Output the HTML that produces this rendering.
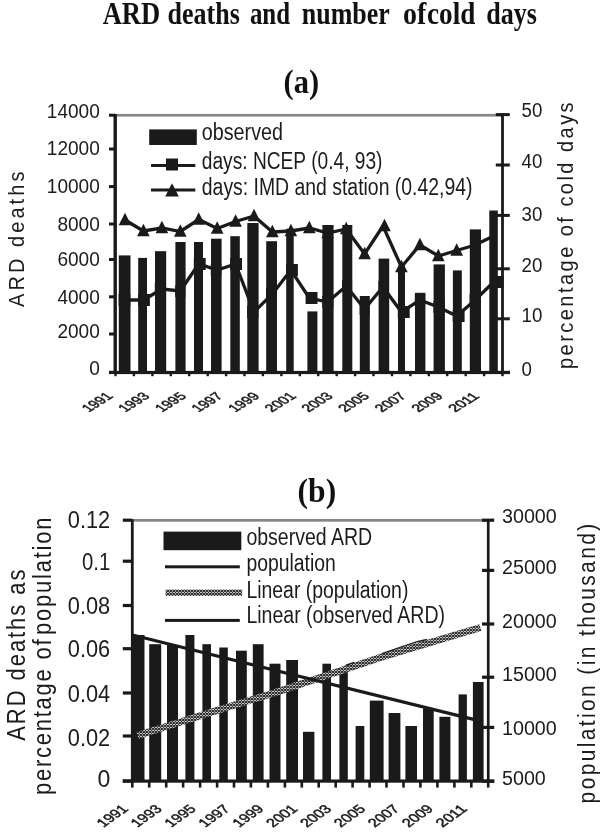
<!DOCTYPE html>
<html lang="en">
<head>
<meta charset="utf-8">
<title>ARD deaths and number of cold days</title>
<style>
html,body{margin:0;padding:0;background:#fff;}
body{width:601px;height:832px;overflow:hidden;}
svg{display:block;}
svg text{font-family:"Liberation Sans", sans-serif;fill:#1c1c1c;}
svg text.xl{stroke:#1c1c1c;stroke-width:0.45px;}
svg text.sf{font-family:"Liberation Serif", serif;fill:#111;}
</style>
</head>
<body>
<svg width="601" height="832" viewBox="0 0 601 832">
<defs>
<pattern id="hatch" width="3" height="3" patternUnits="userSpaceOnUse">
<rect x="0" y="0" width="3" height="3" style="fill:#fff"/>
<path d="M-0.5,-0.5 L3.5,3.5 M3.5,-0.5 L-0.5,3.5" style="fill:none;stroke:#262626;stroke-width:1.05"/>
</pattern>
</defs>
<rect x="0" y="0" width="601" height="832" style="fill:#fff"/>
<g fill="#1a1a1a">
<text x="102.7" y="23.6" font-size="31" textLength="57.5" lengthAdjust="spacingAndGlyphs" class="sf" font-weight="bold">ARD</text>
<text x="167.6" y="23.6" font-size="31" textLength="72.2" lengthAdjust="spacingAndGlyphs" class="sf" font-weight="bold">deaths</text>
<text x="249.9" y="23.6" font-size="31" textLength="40.1" lengthAdjust="spacingAndGlyphs" class="sf" font-weight="bold">and</text>
<text x="301.8" y="23.6" font-size="31" textLength="87.9" lengthAdjust="spacingAndGlyphs" class="sf" font-weight="bold">number</text>
<text x="403" y="23.6" font-size="31" textLength="23.3" lengthAdjust="spacingAndGlyphs" class="sf" font-weight="bold">of</text>
<text x="427" y="23.6" font-size="31" textLength="48.3" lengthAdjust="spacingAndGlyphs" class="sf" font-weight="bold">cold</text>
<text x="486.3" y="23.6" font-size="31" textLength="50.7" lengthAdjust="spacingAndGlyphs" class="sf" font-weight="bold">days</text>
<text x="283.6" y="93.3" font-size="33.5" textLength="35.6" lengthAdjust="spacingAndGlyphs" class="sf" font-weight="bold">(a)</text>
<text x="297.6" y="502.2" font-size="33.5" textLength="38.6" lengthAdjust="spacingAndGlyphs" class="sf" font-weight="bold">(b)</text>
<rect x="114.2" y="113.9" width="389" height="2.7" fill="#878787"/>
<rect x="118.8" y="255.4" width="11.7" height="117.0"/>
<rect x="138.2" y="257.9" width="8.8" height="114.5"/>
<rect x="155.0" y="251.2" width="11.2" height="121.2"/>
<rect x="175.4" y="242.0" width="10.2" height="130.4"/>
<rect x="194.0" y="242.0" width="9.0" height="130.4"/>
<rect x="211.0" y="238.7" width="10.6" height="133.7"/>
<rect x="230.3" y="236.2" width="9.5" height="136.2"/>
<rect x="247.3" y="223.0" width="11.3" height="149.4"/>
<rect x="266.2" y="241.2" width="10.8" height="131.2"/>
<rect x="286.2" y="228.7" width="7.5" height="143.7"/>
<rect x="307.4" y="311.4" width="10.0" height="61.0"/>
<rect x="322.4" y="225.0" width="11.2" height="147.4"/>
<rect x="342.3" y="225.0" width="10.0" height="147.4"/>
<rect x="359.8" y="296.0" width="10.0" height="76.4"/>
<rect x="378.6" y="258.6" width="10.6" height="113.8"/>
<rect x="398.0" y="266.0" width="7.0" height="106.4"/>
<rect x="415.0" y="292.8" width="10.4" height="79.6"/>
<rect x="433.6" y="264.4" width="11.3" height="108.0"/>
<rect x="452.9" y="270.4" width="8.9" height="102.0"/>
<rect x="469.8" y="229.4" width="11.2" height="143.0"/>
<rect x="489.3" y="210.5" width="8.5" height="161.9"/>
<polyline points="125.0,300 143.4,300 161.9,289 180.3,291 198.7,264 217.2,270 235.6,264 254.0,312 272.4,294 290.9,270 309.3,298 327.7,302 346.2,286 364.6,309 383.0,287 401.4,312 419.9,300 438.3,307 456.7,316 475.2,300 493.6,282" fill="none" stroke="#1a1a1a" stroke-width="3.3" stroke-linejoin="miter"/>
<rect x="118.6" y="294" width="11.7" height="12"/>
<rect x="138.0" y="294" width="11.9" height="12"/>
<rect x="154.8" y="283" width="11.2" height="12"/>
<rect x="175.2" y="285" width="10.2" height="12"/>
<rect x="193.8" y="258" width="11.9" height="12"/>
<rect x="210.8" y="264" width="10.6" height="12"/>
<rect x="230.1" y="258" width="11.9" height="12"/>
<rect x="247.1" y="306" width="11.3" height="12"/>
<rect x="266.0" y="288" width="10.8" height="12"/>
<rect x="286.0" y="264" width="11.9" height="12"/>
<rect x="305.6" y="292" width="11.9" height="12"/>
<rect x="322.2" y="296" width="11.2" height="12"/>
<rect x="342.1" y="280" width="10.0" height="12"/>
<rect x="359.6" y="303" width="10.0" height="12"/>
<rect x="378.4" y="281" width="10.6" height="12"/>
<rect x="397.8" y="306" width="11.9" height="12"/>
<rect x="414.8" y="294" width="10.4" height="12"/>
<rect x="433.4" y="301" width="11.3" height="12"/>
<rect x="452.7" y="310" width="11.9" height="12"/>
<rect x="469.6" y="294" width="11.2" height="12"/>
<rect x="491.5" y="276" width="11.9" height="12"/>
<polyline points="125.0,220 143.4,231 161.9,228 180.3,231.5 198.7,219.5 217.2,228.5 235.6,221.5 254.0,216 272.4,232 290.9,231 309.3,228 327.7,233 346.2,229 364.6,254 383.0,226 401.4,267 419.9,245 438.3,256 456.7,250.5 475.2,245 493.6,236" fill="none" stroke="#1a1a1a" stroke-width="3.3" stroke-linejoin="miter"/>
<path d="M125.0,212.8 l6.3,12.4 h-12.6z"/>
<path d="M143.4,223.8 l6.3,12.4 h-12.6z"/>
<path d="M161.9,220.8 l6.3,12.4 h-12.6z"/>
<path d="M180.3,224.3 l6.3,12.4 h-12.6z"/>
<path d="M198.7,212.3 l6.3,12.4 h-12.6z"/>
<path d="M217.2,221.3 l6.3,12.4 h-12.6z"/>
<path d="M235.6,214.3 l6.3,12.4 h-12.6z"/>
<path d="M254.0,208.8 l6.3,12.4 h-12.6z"/>
<path d="M272.4,224.8 l6.3,12.4 h-12.6z"/>
<path d="M290.9,223.8 l6.3,12.4 h-12.6z"/>
<path d="M309.3,220.8 l6.3,12.4 h-12.6z"/>
<path d="M327.7,225.8 l6.3,12.4 h-12.6z"/>
<path d="M346.2,221.8 l6.3,12.4 h-12.6z"/>
<path d="M364.6,246.8 l6.3,12.4 h-12.6z"/>
<path d="M384.5,218.8 l6.3,12.4 h-12.6z"/>
<path d="M401.4,259.8 l6.3,12.4 h-12.6z"/>
<path d="M419.9,237.8 l6.3,12.4 h-12.6z"/>
<path d="M438.3,248.8 l6.3,12.4 h-12.6z"/>
<path d="M456.7,243.3 l6.3,12.4 h-12.6z"/>
<rect x="113.5" y="114" width="3.4" height="260"/>
<rect x="501.1" y="113.2" width="2.8" height="261"/>
<rect x="109" y="370.9" width="401" height="3.2"/>
<rect x="109" y="113.7" width="6" height="3"/>
<rect x="109" y="147.5" width="6" height="3"/>
<rect x="109" y="185.1" width="6" height="3"/>
<rect x="109" y="222.5" width="6" height="3"/>
<rect x="109" y="258.0" width="6" height="3"/>
<rect x="109" y="295.3" width="6" height="3"/>
<rect x="109" y="332.5" width="6" height="3"/>
<rect x="109" y="370.9" width="6" height="3"/>
<rect x="495.8" y="113.1" width="14" height="3"/>
<rect x="495.8" y="163.5" width="14" height="3"/>
<rect x="495.8" y="213.9" width="14" height="3"/>
<rect x="495.8" y="267.3" width="14" height="3"/>
<rect x="495.8" y="317.3" width="14" height="3"/>
<rect x="495.8" y="370.9" width="14" height="3"/>
<rect x="114.3" y="374" width="2.4" height="2.2"/>
<rect x="132.7" y="374" width="2.4" height="2.2"/>
<rect x="151.2" y="374" width="2.4" height="2.2"/>
<rect x="169.6" y="374" width="2.4" height="2.2"/>
<rect x="188.0" y="374" width="2.4" height="2.2"/>
<rect x="206.5" y="374" width="2.4" height="2.2"/>
<rect x="224.9" y="374" width="2.4" height="2.2"/>
<rect x="243.3" y="374" width="2.4" height="2.2"/>
<rect x="261.7" y="374" width="2.4" height="2.2"/>
<rect x="280.2" y="374" width="2.4" height="2.2"/>
<rect x="298.6" y="374" width="2.4" height="2.2"/>
<rect x="317.0" y="374" width="2.4" height="2.2"/>
<rect x="335.5" y="374" width="2.4" height="2.2"/>
<rect x="353.9" y="374" width="2.4" height="2.2"/>
<rect x="372.3" y="374" width="2.4" height="2.2"/>
<rect x="390.8" y="374" width="2.4" height="2.2"/>
<rect x="409.2" y="374" width="2.4" height="2.2"/>
<rect x="427.6" y="374" width="2.4" height="2.2"/>
<rect x="446.0" y="374" width="2.4" height="2.2"/>
<rect x="464.5" y="374" width="2.4" height="2.2"/>
<rect x="482.9" y="374" width="2.4" height="2.2"/>
<rect x="501.3" y="374" width="2.4" height="2.2"/>
<text x="99.8" y="117.5" font-size="20" text-anchor="end" textLength="53.0" lengthAdjust="spacingAndGlyphs">14000</text>
<text x="99.8" y="155.2" font-size="20" text-anchor="end" textLength="53.0" lengthAdjust="spacingAndGlyphs">12000</text>
<text x="99.8" y="193" font-size="20" text-anchor="end" textLength="53.0" lengthAdjust="spacingAndGlyphs">10000</text>
<text x="99.8" y="230.5" font-size="20" text-anchor="end" textLength="42.4" lengthAdjust="spacingAndGlyphs">8000</text>
<text x="99.8" y="265.8" font-size="20" text-anchor="end" textLength="42.4" lengthAdjust="spacingAndGlyphs">6000</text>
<text x="99.8" y="303.8" font-size="20" text-anchor="end" textLength="42.4" lengthAdjust="spacingAndGlyphs">4000</text>
<text x="99.8" y="337.8" font-size="20" text-anchor="end" textLength="42.4" lengthAdjust="spacingAndGlyphs">2000</text>
<text x="99.8" y="375" font-size="20" text-anchor="end" textLength="10.6" lengthAdjust="spacingAndGlyphs">0</text>
<text x="521.5" y="117" font-size="20" textLength="20.8" lengthAdjust="spacingAndGlyphs">50</text>
<text x="521.5" y="168" font-size="20" textLength="20.8" lengthAdjust="spacingAndGlyphs">40</text>
<text x="521.5" y="220.6" font-size="20" textLength="20.8" lengthAdjust="spacingAndGlyphs">30</text>
<text x="521.5" y="271.7" font-size="20" textLength="20.8" lengthAdjust="spacingAndGlyphs">20</text>
<text x="521.5" y="321.7" font-size="20" textLength="20.8" lengthAdjust="spacingAndGlyphs">10</text>
<text x="521.5" y="375.6" font-size="20" textLength="10.4" lengthAdjust="spacingAndGlyphs">0</text>
<text transform="translate(24,307) rotate(-90) scale(1,1.12)" font-size="20" textLength="135.4" lengthAdjust="spacing">ARD deaths</text>
<text transform="translate(572.9,369) rotate(-90) scale(1,1.08)" font-size="20" textLength="266.6" lengthAdjust="spacing">percentage of cold days</text>
<rect x="149.2" y="129.4" width="47.6" height="15.6"/>
<rect x="151" y="164" width="44.3" height="3"/>
<rect x="166" y="158.5" width="12" height="12"/>
<rect x="151" y="188.5" width="44.3" height="3"/>
<path d="M172,183.2 l6.8,13.4 h-13.6z"/>
<text x="201.8" y="140.4" font-size="23" textLength="81.2" lengthAdjust="spacingAndGlyphs">observed</text>
<text x="201.8" y="168.6" font-size="23" textLength="180.7" lengthAdjust="spacingAndGlyphs">days: NCEP (0.4, 93)</text>
<text x="201.8" y="195" font-size="23" textLength="270.7" lengthAdjust="spacingAndGlyphs">days: IMD and station (0.42,94)</text>
<text transform="translate(113.9,396.8) scale(1.6,1) rotate(-45)" font-size="10.8" text-anchor="end" textLength="22.3" lengthAdjust="spacingAndGlyphs" class="xl">1991</text>
<text transform="translate(150.5,396.8) scale(1.6,1) rotate(-45)" font-size="10.8" text-anchor="end" textLength="22.3" lengthAdjust="spacingAndGlyphs" class="xl">1993</text>
<text transform="translate(187.2,396.8) scale(1.6,1) rotate(-45)" font-size="10.8" text-anchor="end" textLength="22.3" lengthAdjust="spacingAndGlyphs" class="xl">1995</text>
<text transform="translate(223.8,396.8) scale(1.6,1) rotate(-45)" font-size="10.8" text-anchor="end" textLength="22.3" lengthAdjust="spacingAndGlyphs" class="xl">1997</text>
<text transform="translate(260.5,396.8) scale(1.6,1) rotate(-45)" font-size="10.8" text-anchor="end" textLength="22.3" lengthAdjust="spacingAndGlyphs" class="xl">1999</text>
<text transform="translate(297.1,396.8) scale(1.6,1) rotate(-45)" font-size="10.8" text-anchor="end" textLength="22.3" lengthAdjust="spacingAndGlyphs" class="xl">2001</text>
<text transform="translate(333.8,396.8) scale(1.6,1) rotate(-45)" font-size="10.8" text-anchor="end" textLength="22.3" lengthAdjust="spacingAndGlyphs" class="xl">2003</text>
<text transform="translate(370.4,396.8) scale(1.6,1) rotate(-45)" font-size="10.8" text-anchor="end" textLength="22.3" lengthAdjust="spacingAndGlyphs" class="xl">2005</text>
<text transform="translate(407.1,396.8) scale(1.6,1) rotate(-45)" font-size="10.8" text-anchor="end" textLength="22.3" lengthAdjust="spacingAndGlyphs" class="xl">2007</text>
<text transform="translate(443.7,396.8) scale(1.6,1) rotate(-45)" font-size="10.8" text-anchor="end" textLength="22.3" lengthAdjust="spacingAndGlyphs" class="xl">2009</text>
<text transform="translate(480.4,396.8) scale(1.6,1) rotate(-45)" font-size="10.8" text-anchor="end" textLength="22.3" lengthAdjust="spacingAndGlyphs" class="xl">2011</text>
<rect x="131" y="519" width="358" height="2.7" fill="#878787"/>
<rect x="132.0" y="635.0" width="12.5" height="146.0"/>
<rect x="149.2" y="644.2" width="12.0" height="136.8"/>
<rect x="167.0" y="645.0" width="11.0" height="136.0"/>
<rect x="185.4" y="635.0" width="9.0" height="146.0"/>
<rect x="202.4" y="644.2" width="8.6" height="136.8"/>
<rect x="219.3" y="647.5" width="8.5" height="133.5"/>
<rect x="236.0" y="650.7" width="10.8" height="130.3"/>
<rect x="252.8" y="644.2" width="10.8" height="136.8"/>
<rect x="269.5" y="663.7" width="11.0" height="117.3"/>
<rect x="286.2" y="660.0" width="11.8" height="121.0"/>
<rect x="303.0" y="731.8" width="11.4" height="49.2"/>
<rect x="322.4" y="663.7" width="8.6" height="117.3"/>
<rect x="339.4" y="670.0" width="8.4" height="111.0"/>
<rect x="355.6" y="726.0" width="8.7" height="55.0"/>
<rect x="369.8" y="700.6" width="13.8" height="80.4"/>
<rect x="388.6" y="713.0" width="11.8" height="68.0"/>
<rect x="405.4" y="726.0" width="11.6" height="55.0"/>
<rect x="423.0" y="708.6" width="10.7" height="72.4"/>
<rect x="439.4" y="716.8" width="11.0" height="64.2"/>
<rect x="458.6" y="694.4" width="8.3" height="86.6"/>
<rect x="472.9" y="682.0" width="10.7" height="99.0"/>
<polyline points="137.5,735.6 210,712.6 275,692.6 380,657.6 460,633.6 480.4,627.6" fill="none" stroke="url(#hatch)" stroke-width="7"/>
<polyline points="346,665.2 354,662.6" fill="none" stroke="#222" stroke-width="1.6"/>
<polyline points="382,653.6 400,647.4 418,641.4 427,639.6" fill="none" stroke="#222" stroke-width="1.5"/>
<line x1="132.5" y1="635" x2="474.5" y2="719.6" stroke="#1a1a1a" stroke-width="3.2"/>
<rect x="130.9" y="519.2" width="2.8" height="263.4"/>
<rect x="486.9" y="519" width="2.7" height="263.6"/>
<rect x="122.8" y="779.5" width="371.5" height="3.2"/>
<rect x="122.8" y="518.6" width="9" height="3.2"/>
<rect x="122.8" y="559.6" width="9" height="3.2"/>
<rect x="122.8" y="603.9" width="9" height="3.2"/>
<rect x="122.8" y="647.1" width="9" height="3.2"/>
<rect x="122.8" y="691.4" width="9" height="3.2"/>
<rect x="122.8" y="734.4" width="9" height="3.2"/>
<rect x="122.8" y="779.4" width="9" height="3.2"/>
<rect x="482" y="518.6" width="12.2" height="3.2"/>
<rect x="482" y="568.8" width="12.2" height="3.2"/>
<rect x="482" y="622.4" width="12.2" height="3.2"/>
<rect x="482" y="675.6" width="12.2" height="3.2"/>
<rect x="482" y="725.8" width="12.2" height="3.2"/>
<rect x="482" y="779.6" width="12.2" height="3.2"/>
<rect x="131.0" y="782" width="2.6" height="5.6"/>
<rect x="147.9" y="782" width="2.6" height="5.6"/>
<rect x="164.9" y="782" width="2.6" height="5.6"/>
<rect x="181.8" y="782" width="2.6" height="5.6"/>
<rect x="198.8" y="782" width="2.6" height="5.6"/>
<rect x="215.8" y="782" width="2.6" height="5.6"/>
<rect x="232.7" y="782" width="2.6" height="5.6"/>
<rect x="249.6" y="782" width="2.6" height="5.6"/>
<rect x="266.6" y="782" width="2.6" height="5.6"/>
<rect x="283.6" y="782" width="2.6" height="5.6"/>
<rect x="300.5" y="782" width="2.6" height="5.6"/>
<rect x="317.4" y="782" width="2.6" height="5.6"/>
<rect x="334.4" y="782" width="2.6" height="5.6"/>
<rect x="351.3" y="782" width="2.6" height="5.6"/>
<rect x="368.3" y="782" width="2.6" height="5.6"/>
<rect x="385.2" y="782" width="2.6" height="5.6"/>
<rect x="402.2" y="782" width="2.6" height="5.6"/>
<rect x="419.1" y="782" width="2.6" height="5.6"/>
<rect x="436.1" y="782" width="2.6" height="5.6"/>
<rect x="453.1" y="782" width="2.6" height="5.6"/>
<rect x="470.0" y="782" width="2.6" height="5.6"/>
<rect x="486.9" y="782" width="2.6" height="5.6"/>
<text x="110.2" y="527.5" font-size="23.5" text-anchor="end" textLength="42.4" lengthAdjust="spacingAndGlyphs">0.12</text>
<text x="110.2" y="569.8" font-size="23.5" text-anchor="end" textLength="28.2" lengthAdjust="spacingAndGlyphs">0.1</text>
<text x="110.2" y="613.5" font-size="23.5" text-anchor="end" textLength="42.4" lengthAdjust="spacingAndGlyphs">0.08</text>
<text x="110.2" y="657" font-size="23.5" text-anchor="end" textLength="42.4" lengthAdjust="spacingAndGlyphs">0.06</text>
<text x="110.2" y="702" font-size="23.5" text-anchor="end" textLength="42.4" lengthAdjust="spacingAndGlyphs">0.04</text>
<text x="110.2" y="745.6" font-size="23.5" text-anchor="end" textLength="42.4" lengthAdjust="spacingAndGlyphs">0.02</text>
<text x="110.2" y="787" font-size="23.5" text-anchor="end" textLength="12.8" lengthAdjust="spacingAndGlyphs">0</text>
<text x="502" y="523.4" font-size="20.5" textLength="54.8" lengthAdjust="spacingAndGlyphs">30000</text>
<text x="502" y="574" font-size="20.5" textLength="54.8" lengthAdjust="spacingAndGlyphs">25000</text>
<text x="502" y="627.7" font-size="20.5" textLength="54.8" lengthAdjust="spacingAndGlyphs">20000</text>
<text x="502" y="680.5" font-size="20.5" textLength="54.8" lengthAdjust="spacingAndGlyphs">15000</text>
<text x="502" y="735" font-size="20.5" textLength="54.8" lengthAdjust="spacingAndGlyphs">10000</text>
<text x="502" y="784.5" font-size="20.5" textLength="43.8" lengthAdjust="spacingAndGlyphs">5000</text>
<text transform="translate(24.5,740.8) rotate(-90) scale(1,1.14)" font-size="22" textLength="171.3" lengthAdjust="spacing">ARD deaths as</text>
<text transform="translate(50.5,795) rotate(-90) scale(1,1.14)" font-size="22" textLength="277.4" lengthAdjust="spacing">percentage of<tspan dx="-5">&#160;</tspan>population</text>
<text transform="translate(595.2,803.4) rotate(-90) scale(1,1.14)" font-size="21" textLength="279.6" lengthAdjust="spacing">population (in thousand)</text>
<rect x="163.5" y="531.6" width="77.8" height="18.6"/>
<rect x="165" y="565.3" width="74.8" height="3"/>
<line x1="165.6" y1="592.8" x2="242.2" y2="592.8" stroke="url(#hatch)" stroke-width="6.6"/>
<rect x="165" y="618.9" width="74.8" height="3"/>
<text x="246.4" y="544.8" font-size="23.5" textLength="125.8" lengthAdjust="spacingAndGlyphs">observed ARD</text>
<text x="246.4" y="570.6" font-size="23.5" textLength="89.4" lengthAdjust="spacingAndGlyphs">population</text>
<text x="246.4" y="597.5" font-size="23.5" textLength="162" lengthAdjust="spacingAndGlyphs">Linear (population)</text>
<text x="246.4" y="623" font-size="23.5" textLength="198.6" lengthAdjust="spacingAndGlyphs">Linear (observed ARD)</text>
<text transform="translate(129.1,809.6) scale(1.4,1) rotate(-45)" font-size="12" text-anchor="end" textLength="25.8" lengthAdjust="spacingAndGlyphs" class="xl">1991</text>
<text transform="translate(163.0,809.6) scale(1.4,1) rotate(-45)" font-size="12" text-anchor="end" textLength="25.8" lengthAdjust="spacingAndGlyphs" class="xl">1993</text>
<text transform="translate(196.9,809.6) scale(1.4,1) rotate(-45)" font-size="12" text-anchor="end" textLength="25.8" lengthAdjust="spacingAndGlyphs" class="xl">1995</text>
<text transform="translate(230.8,809.6) scale(1.4,1) rotate(-45)" font-size="12" text-anchor="end" textLength="25.8" lengthAdjust="spacingAndGlyphs" class="xl">1997</text>
<text transform="translate(264.7,809.6) scale(1.4,1) rotate(-45)" font-size="12" text-anchor="end" textLength="25.8" lengthAdjust="spacingAndGlyphs" class="xl">1999</text>
<text transform="translate(298.6,809.6) scale(1.4,1) rotate(-45)" font-size="12" text-anchor="end" textLength="25.8" lengthAdjust="spacingAndGlyphs" class="xl">2001</text>
<text transform="translate(332.5,809.6) scale(1.4,1) rotate(-45)" font-size="12" text-anchor="end" textLength="25.8" lengthAdjust="spacingAndGlyphs" class="xl">2003</text>
<text transform="translate(366.4,809.6) scale(1.4,1) rotate(-45)" font-size="12" text-anchor="end" textLength="25.8" lengthAdjust="spacingAndGlyphs" class="xl">2005</text>
<text transform="translate(400.3,809.6) scale(1.4,1) rotate(-45)" font-size="12" text-anchor="end" textLength="25.8" lengthAdjust="spacingAndGlyphs" class="xl">2007</text>
<text transform="translate(434.2,809.6) scale(1.4,1) rotate(-45)" font-size="12" text-anchor="end" textLength="25.8" lengthAdjust="spacingAndGlyphs" class="xl">2009</text>
<text transform="translate(468.1,809.6) scale(1.4,1) rotate(-45)" font-size="12" text-anchor="end" textLength="25.8" lengthAdjust="spacingAndGlyphs" class="xl">2011</text>
</g>
</svg>
</body>
</html>
